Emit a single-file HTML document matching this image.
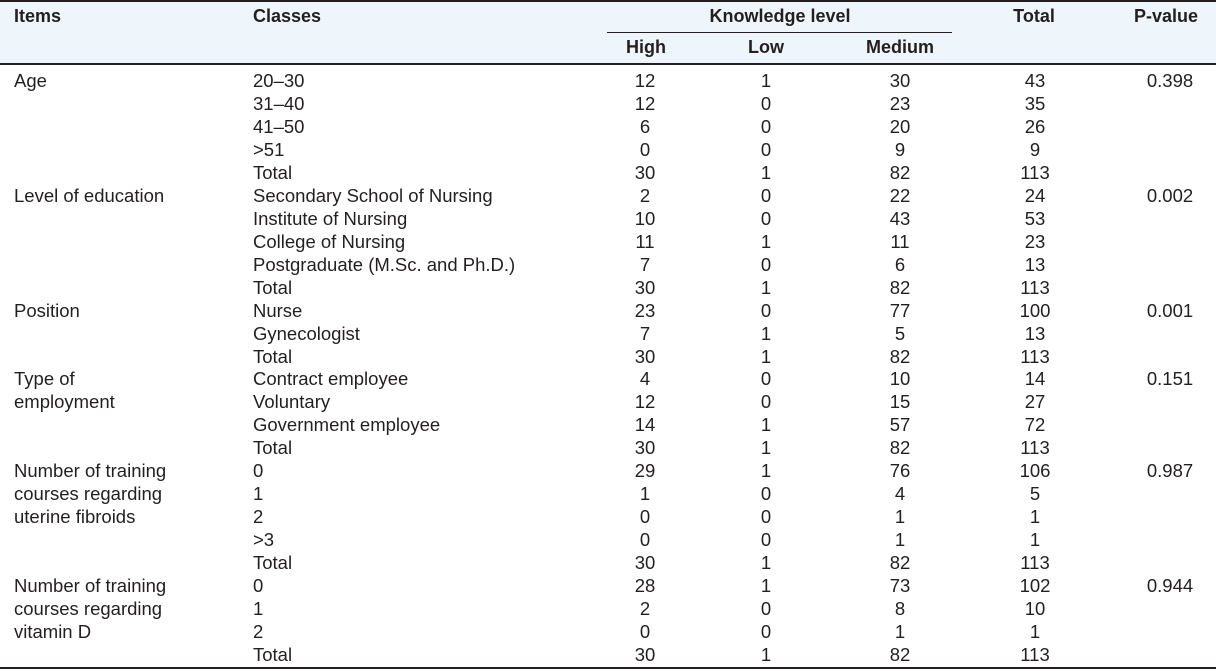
<!DOCTYPE html>
<html><head><meta charset="utf-8"><style>
body{margin:0;width:1216px;height:671px;background:#fff;position:relative;overflow:hidden;font-family:"Liberation Sans",Arial,sans-serif;font-size:18.5px;color:#231f20}
.hd{position:absolute;left:0;top:0;width:1216px;height:64px;background:#eef6fb}
.ln{position:absolute;left:0;width:1216px;height:2px;background:#231f20}
.t{position:absolute;line-height:20px;white-space:nowrap}
.b{font-weight:bold;font-size:18px}
.c{transform:translateX(-50%)}
</style></head><body>
<div class="hd"></div>
<div class="ln" style="top:0"></div>
<div class="ln" style="top:63px"></div>
<div class="ln" style="top:667px"></div>
<div style="position:absolute;left:607px;top:32px;width:345px;height:1px;background:#231f20"></div>
<div class="t b" style="left:14px;top:6px">Items</div>
<div class="t b" style="left:253px;top:6px">Classes</div>
<div class="t b c" style="left:780px;top:6px">Knowledge level</div>
<div class="t b c" style="left:1034px;top:6px">Total</div>
<div class="t b c" style="left:1166px;top:6px">P-value</div>
<div class="t b c" style="left:646px;top:37px">High</div>
<div class="t b c" style="left:766px;top:37px">Low</div>
<div class="t b c" style="left:900px;top:37px">Medium</div>
<div id="rows"></div>
<script>
var items=[[0,["Age"],"0.398"],[5,["Level of education"],"0.002"],[10,["Position"],"0.001"],[13,["Type of","employment"],"0.151"],[17,["Number of training","courses regarding","uterine fibroids"],"0.987"],[22,["Number of training","courses regarding","vitamin D"],"0.944"]];
var rows=[["20–30",12,1,30,43],["31–40",12,0,23,35],["41–50",6,0,20,26],[">51",0,0,9,9],["Total",30,1,82,113],
["Secondary School of Nursing",2,0,22,24],["Institute of Nursing",10,0,43,53],["College of Nursing",11,1,11,23],["Postgraduate (M.Sc. and Ph.D.)",7,0,6,13],["Total",30,1,82,113],
["Nurse",23,0,77,100],["Gynecologist",7,1,5,13],["Total",30,1,82,113],
["Contract employee",4,0,10,14],["Voluntary",12,0,15,27],["Government employee",14,1,57,72],["Total",30,1,82,113],
["0",29,1,76,106],["1",1,0,4,5],["2",0,0,1,1],[">3",0,0,1,1],["Total",30,1,82,113],
["0",28,1,73,102],["1",2,0,8,10],["2",0,0,1,1],["Total",30,1,82,113]];
var h="";
function y(i){return 71+i*22.96;}
rows.forEach(function(r,i){var t=y(i);
h+='<div class="t" style="left:253px;top:'+t+'px">'+r[0].replace('>','&gt;')+'</div>';
[645,766,900,1035].forEach(function(x,k){h+='<div class="t c" style="left:'+x+'px;top:'+t+'px">'+r[k+1]+'</div>';});});
items.forEach(function(it){it[1].forEach(function(s,j){h+='<div class="t" style="left:14px;top:'+y(it[0]+j)+'px">'+s+'</div>';});
h+='<div class="t c" style="left:1170px;top:'+y(it[0])+'px">'+it[2]+'</div>';});
document.getElementById('rows').innerHTML=h;
</script>
</body></html>
